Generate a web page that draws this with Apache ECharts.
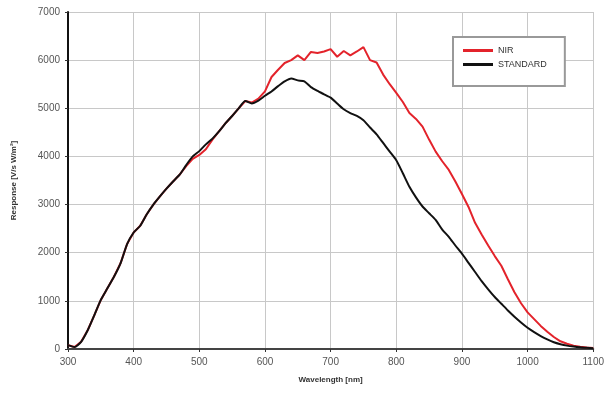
<!DOCTYPE html>
<html>
<head>
<meta charset="utf-8">
<script src="https://cdn.jsdelivr.net/npm/echarts@6/dist/echarts.min.js"></script>
<style>
  html,body{margin:0;padding:0;background:#fff;}
  #main{width:607px;height:397px;}
</style>
</head>
<body>
<div id="main"></div>
<script>
// wavelength grid, 10 nm steps
let wavelengths=[]
for(let w=300;w<=1100;w+=10) wavelengths.push(w)

let standard=[80,40,150,390,700,1020,1260,1500,1780,2180,
  2420,2560,2800,3000,3170,3330,3480,3620,3820,4000,
  4110,4250,4370,4520,4690,4840,5000,5150,5100,5160,
  5260,5350,5460,5560,5620,5580,5560,5440,5360,5290,
  5220,5100,4980,4900,4840,4750,4600,4460,4280,4100,
  3920,3650,3370,3150,2960,2820,2680,2480,2330,2150,
  1980,1790,1600,1410,1240,1080,940,800,670,550,
  440,350,270,200,140,100,70,50,35,25,15]
let nir=[80,40,150,390,700,1020,1260,1500,1780,2180,
  2420,2560,2800,3000,3170,3330,3480,3620,3800,3950,
  4030,4150,4350,4520,4690,4840,5000,5150,5120,5200,
  5350,5650,5800,5940,6000,6100,6000,6170,6150,6180,
  6230,6070,6190,6100,6180,6270,6000,5950,5700,5500,
  5320,5130,4900,4780,4620,4350,4100,3900,3720,3480,
  3220,2950,2620,2380,2150,1930,1730,1450,1180,950,
  760,620,480,360,250,160,110,70,45,30,20]

let seriesNames=['NIR','STANDARD']

function pairs(arr){
  return wavelengths.map((w,i)=>[w,arr[i]])
}

var myChart=echarts.init(document.getElementById('main'))
var labelFont={color:'#555',fontSize:10,fontFamily:'Liberation Sans',formatter:v=>String(v)}
option={
  animation:false,
  grid:{left:68,right:13,top:12,bottom:48},
  legend:{
    orient:'vertical',
    left:453,top:37,
    padding:[9,18,17,10],
    itemWidth:30,itemHeight:3,itemGap:5,
    icon:'rect',
    borderColor:'#999',borderWidth:2,
    backgroundColor:'#fff',
    textStyle:{color:'#333',fontSize:9,fontFamily:'Liberation Sans'},
    data:seriesNames
  },
  xAxis:{
    type:'value',min:300,max:1100,interval:100,
    name:'Wavelength [nm]',nameLocation:'middle',nameGap:27,
    nameTextStyle:{color:'#333',fontSize:8,fontWeight:'bold',fontFamily:'Liberation Sans'},
    axisLine:{lineStyle:{color:'#444',width:2}},
    axisTick:{inside:false,length:3,lineStyle:{color:'#333'}},
    axisLabel:labelFont,
    splitLine:{lineStyle:{color:'#c8c8c8',width:1}}
  },
  yAxis:{
    type:'value',min:0,max:7000,interval:1000,
    name:'Response [V/s W/m²]',nameLocation:'middle',nameGap:50,
    nameTextStyle:{color:'#333',fontSize:8,fontWeight:'bold',fontFamily:'Liberation Sans'},
    axisLine:{show:true,lineStyle:{color:'#111',width:2}},
    axisTick:{show:true,length:3,lineStyle:{color:'#333'}},
    axisLabel:labelFont,
    splitLine:{lineStyle:{color:'#c8c8c8',width:1}}
  },
  series:[
    {name:seriesNames[0],type:'line',showSymbol:false,data:pairs(nir),
      lineStyle:{color:'#e3232b',width:2},itemStyle:{color:'#e3232b'}},
    {name:seriesNames[1],type:'line',showSymbol:false,smooth:0.2,data:pairs(standard),
      lineStyle:{color:'#111',width:2},itemStyle:{color:'#111'}}
  ]
}
myChart.setOption(option)
</script>
</body>
</html>
